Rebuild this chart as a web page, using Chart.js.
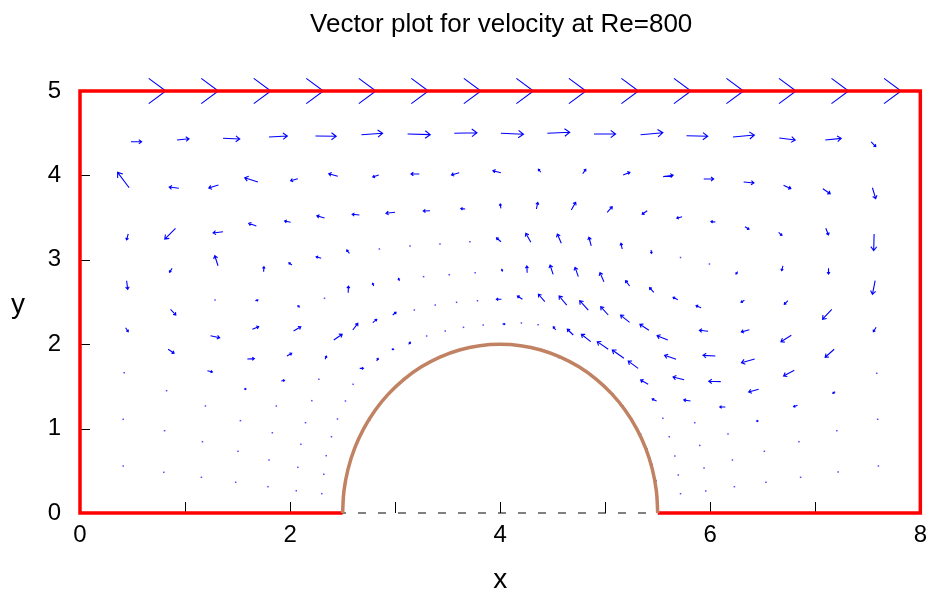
<!DOCTYPE html>
<html>
<head>
<meta charset="utf-8">
<title>Vector plot for velocity at Re=800</title>
<script src="https://cdn.jsdelivr.net/npm/chart.js@4.4.1/dist/chart.umd.min.js"></script>
<style>
  html, body { margin: 0; padding: 0; background: #fff; }
  #wrap { width: 935px; height: 594px; }
</style>
</head>
<body>
<div id="wrap"><canvas id="myChart" width="935" height="594"></canvas></div>
<script>
'use strict';

const titleText = 'Vector plot for velocity at Re=800';
const xTitle = 'x';
const yTitle = 'y';
const xLabelled = [0, 2, 4, 6, 8];

// cavity walls (solid red), bottom wall has a gap where the bump sits
const wallX = [2.5, 0, 0, 8, 8, 5.5];
const wallY = [0, 0, 5, 5, 0, 0];

// domain outline underneath, dashed
const baseX = [0, 0, 8];
const baseY = [5, 0, 0];

// semi-elliptic bump, centre (4,0)
const bumpX = [2.5, 2.5128, 2.5511, 2.6142, 2.7010, 2.8100, 2.9393, 3.0869, 3.25, 3.4260, 3.6118, 3.8042, 4,
               4.1958, 4.3882, 4.5740, 4.75, 4.9131, 5.0607, 5.19, 5.2990, 5.3858, 5.4489, 5.4872, 5.5];
const bumpY = [0, 0.2611, 0.5176, 0.7654, 1.0, 1.2175, 1.4142, 1.5867, 1.7321, 1.8478, 1.9319, 1.9829, 2,
               1.9829, 1.9319, 1.8478, 1.7321, 1.5867, 1.4142, 1.2175, 1.0, 0.7654, 0.5176, 0.2611, 0];

// velocity vectors: [x, y, u, v]
const lidRow = [
  [0,5,0.817,0],[0.5,5,0.817,0],[1,5,0.817,0],[1.5,5,0.817,0],[2,5,0.817,0],[2.5,5,0.817,0],
  [3,5,0.817,0],[3.5,5,0.817,0],[4,5,0.817,0],[4.5,5,0.817,0],[5,5,0.817,0],[5.5,5,0.817,0],
  [6,5,0.817,0],[6.5,5,0.817,0],[7,5,0.817,0]
];
const row1 = [
  [0.485,4.399,0.102,0],[0.924,4.419,0.114,0.015],[1.362,4.440,0.159,-0.008],[1.799,4.455,0.175,0.012],
  [2.242,4.467,0.197,-0.004],[2.679,4.482,0.202,0.017],[3.119,4.491,0.216,-0.008],[3.563,4.499,0.216,0.007],
  [4.007,4.499,0.215,-0.012],[4.449,4.499,0.213,0.012],[4.893,4.491,0.206,0],[5.337,4.482,0.212,0.024],
  [5.774,4.470,0.202,-0.007],[6.217,4.455,0.203,0.024],[6.657,4.443,0.152,-0.024],[7.095,4.419,0.152,0.020],
  [7.532,4.396,0.044,-0.056]
];
const row2 = [
  [0.468,3.854,-0.110,0.182],[0.941,3.847,-0.092,0.015],[1.318,3.886,-0.092,-0.036],[1.694,3.922,-0.126,0.051],
  [2.074,3.961,-0.069,-0.024],[2.454,3.989,-0.086,0.031],[2.844,4.005,-0.057,-0.024],[3.230,4.017,-0.079,0],
  [3.610,4.032,-0.073,-0.027],[4.007,4.032,-0.076,0.024],[4.387,4.037,-0.023,0.036],[4.786,4.020,0.029,0.052],
  [5.171,4.005,0.064,0.032],[5.552,3.985,0.095,0.017],[5.938,3.957,0.095,0],[6.318,3.922,0.098,-0.012],
  [6.698,3.883,0.069,-0.040],[7.072,3.842,0.070,-0.059],[7.544,3.854,0.031,-0.130]
];
const row3 = [
  [0.459,3.306,-0.015,-0.071],[0.909,3.373,-0.102,-0.127],[1.362,3.333,-0.095,-0.015],[1.679,3.400,-0.073,0.032],
  [2.005,3.444,-0.057,0.015],[2.328,3.495,-0.073,0.027],[2.660,3.531,-0.069,0.008],[2.999,3.563,-0.086,-0.012],
  [3.332,3.582,-0.064,-0.004],[3.667,3.602,-0.041,0.004],[4.007,3.610,-0.007,0.051],[4.345,3.602,0.013,0.079],
  [4.677,3.590,0.042,0.091],[5.019,3.563,0.048,0.066],[5.400,3.582,-0.048,-0.043],[5.732,3.511,-0.050,-0.019],
  [6.049,3.448,-0.042,0.004],[6.331,3.392,0.038,-0.031],[6.651,3.326,0.031,-0.036],[7.100,3.373,0.026,-0.079],
  [7.560,3.306,-0.004,-0.198]
];
const row4 = [
  [0.444,2.752,0.010,-0.102],[0.877,2.899,-0.025,-0.047],[1.314,2.930,-0.031,0.118],[1.748,2.859,0.003,0.059],
  [2.017,2.938,-0.029,0.027],[2.296,3.018,-0.048,0.019],[2.565,3.077,-0.026,0.039],[2.850,3.128,0,0],
  [3.142,3.164,0,0],[3.427,3.187,0,0],[3.712,3.214,0,0],[4.007,3.214,-0.042,0.047],
  [4.292,3.207,-0.048,0.107],[4.582,3.195,-0.038,0.110],[4.867,3.164,-0.022,0.103],[5.162,3.128,-0.012,0.068],
  [5.437,3.116,0.004,-0.039],[5.717,3.027,0,0],[5.992,2.950,0,0],[6.261,2.859,-0.016,-0.027],
  [6.692,2.927,-0.012,-0.056],[7.126,2.899,0,-0.068],[7.570,2.752,-0.026,-0.161]
];
const row5 = [
  [0.434,2.195,0.025,-0.047],[0.862,2.414,0.050,-0.068],[1.286,2.524,0,0],[1.669,2.515,0.025,0.008],
  [2.093,2.437,-0.019,0.019],[2.328,2.544,0,0],[2.553,2.610,0.003,0.079],[2.796,2.690,-0.010,0.032],
  [3.040,2.749,-0.007,0.032],[3.271,2.800,0,0],[3.515,2.823,0,0],[3.762,2.847,0,0],
  [4.022,2.859,-0.006,0.028],[4.257,2.847,-0.003,0.079],[4.504,2.828,-0.029,0.110],[4.744,2.800,-0.031,0.111],
  [4.988,2.741,-0.038,0.107],[5.232,2.690,-0.038,0.063],[5.463,2.615,-0.041,0.055],[5.691,2.527,-0.045,0.028],
  [5.913,2.432,-0.048,0.024],[6.325,2.520,-0.032,-0.024],[6.739,2.515,-0.034,-0.043],[7.157,2.414,-0.088,-0.118],
  [7.579,2.200,-0.026,-0.052]
];
const row6 = [
  [0.421,1.662,0,0],[0.839,1.940,0.057,-0.047],[1.242,2.101,0.088,-0.024],[1.641,2.177,0.060,0.031],
  [2.033,2.156,0.069,0.051],[2.416,2.050,0.080,0.068],[2.597,2.168,0.048,0.079],[2.787,2.255,0.038,0.040],
  [2.977,2.346,0.032,0.032],[3.183,2.405,0,0],[3.382,2.464,0,0],[3.585,2.496,0,0],
  [3.784,2.515,0,0],[4.012,2.532,-0.048,0],[4.212,2.532,-0.048,0.039],[4.425,2.504,-0.061,0.088],
  [4.634,2.464,-0.073,0.107],[4.839,2.405,-0.082,0.110],[5.029,2.346,-0.072,0.098],[5.232,2.259,-0.086,0.086],
  [5.416,2.165,-0.086,0.071],[5.596,2.050,-0.102,0.051],[5.979,2.153,-0.082,0.012],[6.372,2.172,-0.076,-0.027],
  [6.772,2.105,-0.099,-0.076],[7.180,1.940,-0.086,-0.095],[7.585,1.655,0,0]
];
const row7 = [
  [0.824,1.449,0,0],[1.213,1.686,0.048,-0.015],[1.593,1.825,0.067,0.004],[1.970,1.860,0.045,0.032],
  [2.334,1.821,0.012,0.039],[2.663,1.714,0.035,0],[2.825,1.801,0.013,0.032],[2.967,1.940,0.019,0],
  [3.129,1.999,0.016,0.024],[3.300,2.097,0,0],[3.477,2.156,0,0],[3.651,2.200,0,0],
  [3.838,2.227,0,0],[4.022,2.239,0.023,0],[4.202,2.251,0,0],[4.361,2.231,0,0],
  [4.529,2.168,-0.023,0.039],[4.696,2.109,-0.057,0.068],[4.862,2.030,-0.089,0.088],[5.029,1.940,-0.105,0.090],
  [5.178,1.833,-0.111,0.098],[5.314,1.714,-0.095,0.086],[5.675,1.821,-0.110,0.047],[6.049,1.860,-0.118,0.008],
  [6.423,1.825,-0.126,-0.044],[6.800,1.691,-0.102,-0.068],[7.190,1.437,-0.023,-0.019],[7.594,1.110,0,0]
];
// slow region left of the bump
const lowLeft = [
  [0.411,1.110,0,0],[0.805,0.975,0,0],[1.194,1.268,0,0],[1.561,1.469,0.020,0],[1.916,1.564,0.031,0.008],
  [2.274,1.584,0,0],[2.600,1.525,0,0],[1.527,1.094,0,0],[1.869,1.268,0,0],[2.207,1.331,0,0],
  [2.527,1.327,0,0],[1.831,0.951,0,0],[2.147,1.070,0,0],[2.451,1.114,0,0],[2.103,0.814,0,0],
  [2.394,0.904,0,0],[1.166,0.845,0,0],[0.411,0.557,0,0],[0.798,0.482,0,0],[1.156,0.423,0,0],
  [1.482,0.364,0,0],[1.789,0.312,0,0],[2.059,0.264,0,0],[2.302,0.229,0,0],[1.504,0.731,0,0],
  [1.799,0.628,0,0],[2.074,0.541,0,0],[2.321,0.459,0,0],[2.344,0.679,0,0],
  [2.534,0.383,0,0],[2.572,0.577,0,0],[2.613,0.767,0,0],[2.676,0.944,0,0],[2.760,1.102,0,0],
  [2.844,1.268,0,0],[2.945,1.410,0,0],[3.050,1.544,0,0]
];
// region right of the bump
const lowRight = [
  [5.409,1.525,-0.072,0.051],[5.751,1.579,-0.105,0.032],[6.100,1.556,-0.114,0.005],[6.461,1.466,-0.095,-0.032],
  [6.831,1.276,-0.038,-0.017],[7.205,0.975,0,0],[5.489,1.327,-0.042,0.024],[5.812,1.327,-0.064,0.012],
  [6.144,1.256,-0.054,0],[6.461,1.090,-0.020,0],
  [5.549,1.122,0,0],[5.610,0.904,0,0],[5.663,0.675,0,0],[5.696,0.450,0,0],[5.717,0.229,0,0],
  [5.853,1.070,0,0],[5.900,0.800,0,0],[5.941,0.533,0,0],[5.957,0.261,0,0],[6.169,0.936,0,0],
  [6.211,0.628,0,0],[6.230,0.312,0,0],[6.515,0.731,0,0],[6.530,0.364,0,0],[6.844,0.845,0,0],
  [6.860,0.423,0,0],[7.218,0.486,0,0],[7.601,0.557,0,0],
  [4.561,1.840,0,0],[4.719,1.754,0,0],[4.846,1.662,0,0],[4.963,1.544,0,0],[5.074,1.410,0,0],
  [5.171,1.268,0,0],[5.257,1.110,0,0],[5.337,0.936,0,0],[5.400,0.758,0,0],[5.447,0.577,0,0],
  [5.485,0.383,0,0]
];

const vectors = [].concat(lidRow, row1, row2, row3, row4, row5, row6, row7, lowLeft, lowRight);

function toPoints(xs, ys) {
  return xs.map((x, i) => ({ x: x, y: ys[i] }));
}

const FONT = "'Liberation Sans', Arial, Helvetica, sans-serif";

// arrows are drawn under the wall lines
const quiver = {
  id: 'quiver',
  beforeDatasetsDraw(chart) {
    const ctx = chart.ctx;
    const sx = chart.scales.x, sy = chart.scales.y;
    ctx.save();
    ctx.strokeStyle = '#0000ff';
    ctx.fillStyle = '#0000ff';
    ctx.lineWidth = 1.1;
    vectors.forEach(a => {
      const x0 = sx.getPixelForValue(a[0]), y0 = sy.getPixelForValue(a[1]);
      const x1 = sx.getPixelForValue(a[0] + a[2]), y1 = sy.getPixelForValue(a[1] + a[3]);
      const dx = x1 - x0, dy = y1 - y0;
      const len = Math.hypot(dx, dy);
      if (len < 1.5) {
        ctx.globalAlpha = 0.7;
        ctx.fillRect(x0 - 0.75, y0 - 0.75, 1.5, 1.5);
        ctx.globalAlpha = 1;
        return;
      }
      const ux = dx / len, uy = dy / len;
      const back = 0.19 * len + 0.8, side = 0.14 * len + 0.6;
      ctx.beginPath();
      ctx.moveTo(x0, y0);
      ctx.lineTo(x1, y1);
      ctx.moveTo(x1 - back * ux + side * uy, y1 - back * uy - side * ux);
      ctx.lineTo(x1, y1);
      ctx.lineTo(x1 - back * ux - side * uy, y1 - back * uy + side * ux);
      ctx.stroke();
    });

    // inward tick marks on the left and bottom axes
    const area = chart.chartArea;
    ctx.strokeStyle = '#000';
    ctx.lineWidth = 1;
    ctx.beginPath();
    sx.ticks.forEach(t => {
      const px = Math.round(sx.getPixelForValue(t.value)) + 0.5;
      ctx.moveTo(px, area.bottom);
      ctx.lineTo(px, area.bottom - 11);
    });
    sy.ticks.forEach(t => {
      const py = Math.round(sy.getPixelForValue(t.value)) + 0.5;
      ctx.moveTo(area.left, py);
      ctx.lineTo(area.left + 10, py);
    });
    ctx.stroke();
    ctx.restore();
  }
};

const labels = {
  id: 'labels',
  afterDraw(chart) {
    const ctx = chart.ctx;
    const area = chart.chartArea;
    const cx = (area.left + area.right) / 2;
    ctx.save();
    ctx.fillStyle = '#000';
    ctx.textAlign = 'center';
    ctx.textBaseline = 'alphabetic';
    ctx.font = '26px ' + FONT;
    ctx.fillText(titleText, cx + 1, 32);
    ctx.font = '28px ' + FONT;
    ctx.fillText(xTitle, cx, 588);
    ctx.fillText(yTitle, 18, 313);
    ctx.restore();
  }
};

Chart.defaults.font.family = FONT;

const ctx = document.getElementById('myChart').getContext('2d');
const myChart = new Chart(ctx, {
  type: 'scatter',
  data: {
    datasets: [
      {
        label: 'bump',
        data: toPoints(bumpX, bumpY),
        showLine: true,
        borderColor: '#c08262',
        borderWidth: 3.5,
        tension: 0.4,
        pointRadius: 0,
        clip: false
      },
      {
        label: 'walls',
        data: toPoints(wallX, wallY),
        showLine: true,
        borderColor: '#ff0000',
        borderWidth: 3.5,
        pointRadius: 0,
        clip: false
      },
      {
        label: 'outline',
        data: toPoints(baseX, baseY),
        showLine: true,
        borderColor: '#000000',
        borderWidth: 1,
        borderDash: [8, 12],
        pointRadius: 0,
        clip: false
      }
    ]
  },
  options: {
    responsive: false,
    animation: false,
    devicePixelRatio: 1,
    layout: { padding: { top: 91, right: 13, left: 0, bottom: 0 } },
    plugins: {
      legend: { display: false },
      tooltip: { enabled: false },
      title: { display: false }
    },
    scales: {
      x: {
        type: 'linear',
        min: 0,
        max: 8,
        grid: { display: false, drawTicks: false },
        border: { display: false },
        ticks: {
          stepSize: 1,
          autoSkip: false,
          maxRotation: 0,
          padding: 8,
          color: '#000',
          font: { size: 24 },
          callback: v => xLabelled.includes(v) ? String(v) : ''
        },
        afterFit(scale) { scale.height = 81; }
      },
      y: {
        type: 'linear',
        min: 0,
        max: 5,
        grid: { display: false, drawTicks: false },
        border: { display: false },
        ticks: {
          stepSize: 1,
          padding: 19,
          color: '#000',
          font: { size: 24 }
        },
        afterFit(scale) { scale.width = 80; }
      }
    }
  },
  plugins: [quiver, labels]
});
</script>
</body>
</html>
